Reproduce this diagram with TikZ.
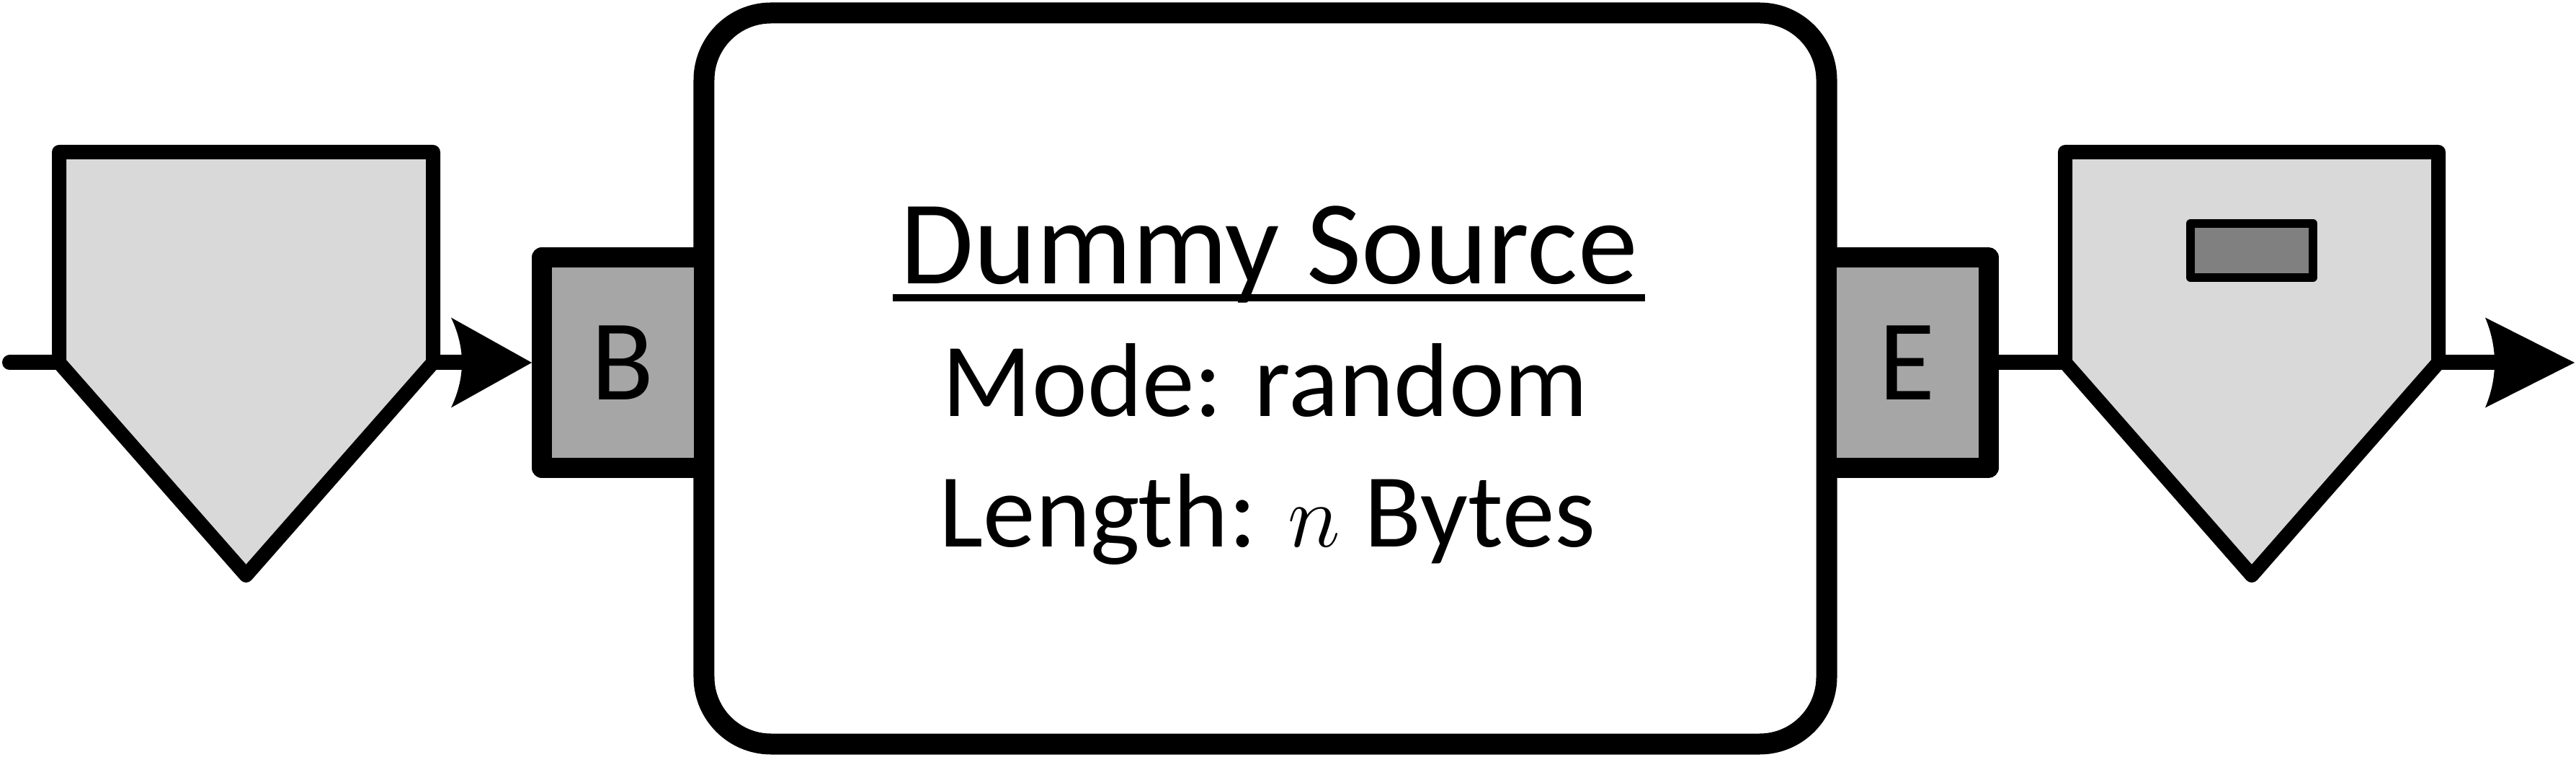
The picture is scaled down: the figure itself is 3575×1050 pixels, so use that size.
\documentclass[tikz,border=0pt]{standalone}
\usepackage{fontspec}
\setmainfont{Carlito}
\usetikzlibrary{arrows.meta}
\newdimen\myarrowtmp
\pgfdeclarearrow{
  name = CurvedStealth,
  parameters = {\the\pgfarrowlength,\the\pgfarrowwidth,\the\pgfarrowinset},
  setup code = {
    \pgfarrowssettipend{0pt}
    \pgfarrowssetbackend{-\pgfarrowlength}
    \myarrowtmp=\pgfarrowinset
    \advance\myarrowtmp by -\pgfarrowlength
    \pgfarrowssetlineend{\myarrowtmp}
    \pgfarrowssavethe\pgfarrowlength
    \pgfarrowssavethe\pgfarrowwidth
    \pgfarrowssavethe\pgfarrowinset
  },
  drawing code = {
    \pgfpathmoveto{\pgfpointorigin}
    \pgfpathlineto{\pgfpoint{-\pgfarrowlength}{.5\pgfarrowwidth}}
    \pgfpathcurveto{\pgfpoint{-\pgfarrowlength+1.333\pgfarrowinset}{.1667\pgfarrowwidth}}{\pgfpoint{-\pgfarrowlength+1.333\pgfarrowinset}{-.1667\pgfarrowwidth}}{\pgfpoint{-\pgfarrowlength}{-.5\pgfarrowwidth}}
    \pgfpathclose
    \pgfusepathqfill
  },
  defaults = {length=10pt, width=10pt, inset=2pt}
}
\definecolor{pentfill}{HTML}{D9D9D9}
\definecolor{portfill}{HTML}{A6A6A6}
\definecolor{smallfill}{HTML}{808080}
\begin{document}
\begin{tikzpicture}[x=0.2pt, y=-0.2pt,
  mainbox/.style={draw=black, line width=5.8pt, fill=white, rounded corners=18.6pt,
    minimum width=311.6pt, minimum height=202.8pt, inner sep=0pt},
  portbox/.style={draw=black, line width=5.6pt, fill=portfill, line join=round,
    minimum width=45pt, minimum height=58.4pt, inner sep=0pt,
    font=\fontsize{32pt}{38pt}\selectfont},
  pent/.style={draw=black, line width=4pt, fill=pentfill, line join=round},
  conn/.style={draw=black, line width=4.2pt},
  txt/.style={inner sep=0pt, anchor=base},
  titlefont/.style={font=\fontsize{33.2pt}{40pt}\selectfont},
  bodyfont/.style={font=\fontsize{29.1pt}{35pt}\selectfont}
]
\useasboundingbox (0,0) rectangle (3575,1050);

% coordinates
\coordinate (in) at (13.5,503);
\coordinate (pLl) at (82,503);
\coordinate (pLr) at (601,503);
\coordinate (pRl) at (2866,503);
\coordinate (pRr) at (3384,503);
\coordinate (out) at (3573,503);

% main box
\node[mainbox] (main) at (1756,525) {};

% port boxes
\node[portbox] (B) at (864.5,503) {B};
\node[portbox] (E) at (2647,503) {E};

% connectors
\draw[conn, line cap=round] (in) -- (pLl);
\draw[conn, -{CurvedStealth[length=22.4pt, width=25pt, inset=3pt]}] (pLr) -- (B);
\draw[conn] (E) -- (pRl);
\draw[conn, -{CurvedStealth[length=24.8pt, width=25pt, inset=2.6pt]}] (pRr) -- (out);

% pentagons
\draw[pent] (82,211) -- (601,211) -- (pLr) -- (341.5,798) -- (pLl) -- cycle;
\draw[pent] (2866,211) -- (3384,211) -- (pRr) -- (3125,798) -- (pRl) -- cycle;
\node[draw=black, line width=2.4pt, fill=smallfill, line join=round,
  minimum width=34pt, minimum height=15pt, inner sep=0pt] (buf) at (3125,347.5) {};

% text
\node[txt, titlefont] (title) at (1761,394) {Dummy Source};
\draw[line width=2pt] ([xshift=-1.8pt,yshift=-3.8pt]title.base west) -- ([xshift=1.8pt,yshift=-3.8pt]title.base east);
\node[txt, bodyfont] (mode) at (1756,578) {Mode: random};
\node[txt, bodyfont] (len) at (1759,759) {Length: $n$ Bytes};
\end{tikzpicture}
\end{document}
